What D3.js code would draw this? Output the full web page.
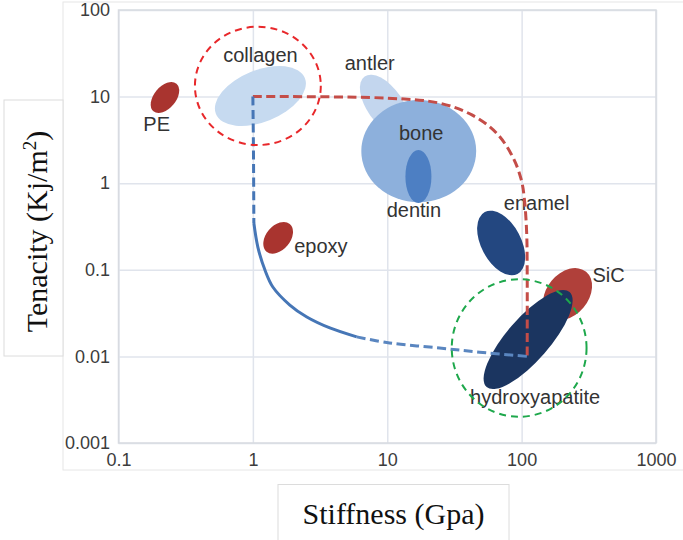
<!DOCTYPE html>
<html>
<head>
<meta charset="utf-8">
<script src="https://cdn.jsdelivr.net/npm/d3@7"></script>
<style>
  html, body { margin: 0; padding: 0; background: #fff; }
  svg { display: block; font-family: "Liberation Sans", Arial, sans-serif; }
</style>
</head>
<body>
<svg id="chart" width="683" height="540"></svg>
<script>
// ---- data -------------------------------------------------------------
// Material property fields: stiffness (GPa) vs tenacity (kJ/m²).
// Each field is an ellipse given by the two ends of its long axis.
const materials = ["PE", "collagen", "antler", "bone", "dentin", "epoxy", "enamel", "SiC", "hydroxyapatite"];
const fieldStart = [[0.182, 6.77], [0.531, 6.30], [6.79, 17.1], [6.41, 2.35], [17.06, 2.42],
                    [1.264, 0.162], [53.2, 0.464], [159.8, 0.0291], [54.9, 0.00443]];
const fieldEnd   = [[0.270, 14.1], [2.436, 16.4], [13.5, 3.73], [45.9, 2.35], [17.06, 0.590],
                    [1.881, 0.338], [93.2, 0.0897], [302.1, 0.0948], [227.5, 0.0554]];
const fieldAspect = [0.61, 0.54, 0.51, 0.89, 0.49, 0.67, 0.57, 0.72, 0.34];

// Property frontier of engineered materials (red) ...
const engineeredFrontier = [[1, 10], [10, 9.6], [24.5, 8.4], [43, 6.1], [65, 3.8], [86, 2.0],
                            [99.5, 1.09], [105, 0.64], [109, 0.27], [110, 0.1], [110, 0.01]];
// ... and of natural materials (blue), in three stretches
const naturalUpper = [[1, 10], [1.01, 2.4], [1.017, 0.347]];
const naturalBend  = [[1.017, 0.347], [1.089, 0.183], [1.228, 0.100], [1.408, 0.0633],
                      [1.884, 0.0392], [2.52, 0.0285], [3.74, 0.0213], [5.93, 0.0168]];
const naturalLower = [[5.93, 0.0168], [10.4, 0.0143], [24.5, 0.0125], [48.7, 0.0112], [110, 0.01]];

// Highlight rings: soft constituent (collagen) and stiff mineral (hydroxyapatite)
const ringStart  = [[0.3705, 13.3], [30.2, 0.0125]];
const ringEnd    = [[3.203, 13.3], [304.2, 0.0125]];
const ringAspect = [0.94, 1.02];

// Axis ticks
const xTicks = [0.1, 1, 10, 100, 1000];
const xTickLabels = ["0.1", "1", "10", "100", "1000"];
const yTicks = [0.001, 0.01, 0.1, 1, 10, 100];
const yTickLabels = ["0.001", "0.01", "0.1", "1", "10", "100"];

// ---- styling / layout ---------------------------------------------------
const fieldColor = {
  "PE": "#a9342f", "collagen": "#c6daf0", "antler": "#c3d6ee", "bone": "#8db0dc",
  "dentin": "#4d7fc3", "epoxy": "#a9342f", "enamel": "#234780", "SiC": "#b0403a",
  "hydroxyapatite": "#1b3560"
};
// label baseline offset from the field centre, px
const labelOffset = {
  "PE": [-8.3, 33.5], "collagen": [0, -34], "antler": [-15, -35], "bone": [2.5, -11],
  "dentin": [-4.5, 40.5], "epoxy": [42.7, 15.5], "enamel": [35.5, -33], "SiC": [41, -12],
  "hydroxyapatite": [7, 64]
};
const ringColor = ["#e8282b", "#1ea84c"];

const plot = { left: 118.5, right: 656, top: 10, bottom: 443 };

const svg = d3.select("#chart");

const x = d3.scaleLog().domain([0.1, 1000]).range([plot.left, plot.right]);
const y = d3.scaleLog().domain([0.001, 100]).range([plot.bottom, plot.top]);

// ---- frames around the figure and the axis titles ------------------------
svg.append("rect").attr("x", 63).attr("y", 2).attr("width", 700).attr("height", 468)
  .attr("fill", "none").attr("stroke", "#e6e6e6").attr("stroke-width", 1);
svg.append("rect").attr("x", 4).attr("y", 100).attr("width", 59).attr("height", 256)
  .attr("fill", "#fff").attr("stroke", "#dcdcdc").attr("stroke-width", 1);
svg.append("rect").attr("x", 278).attr("y", 484.5).attr("width", 231).attr("height", 70)
  .attr("fill", "#fff").attr("stroke", "#dcdcdc").attr("stroke-width", 1);

// ---- grid + tick labels --------------------------------------------------
const gx = svg.append("g").attr("transform", `translate(0,${plot.bottom})`)
  .call(d3.axisBottom(x).tickValues(xTicks)
    .tickFormat((d, i) => xTickLabels[i])
    .tickSize(-(plot.bottom - plot.top)).tickPadding(10));
gx.select(".domain").remove();
gx.selectAll(".tick line").attr("stroke", "#e0e4ec").attr("stroke-width", 1.5);
gx.selectAll(".tick text").attr("font-size", 18).attr("fill", "#3c3c3c")
  .attr("font-family", "Liberation Sans, Arial, sans-serif");

const gy = svg.append("g").attr("transform", `translate(${plot.left},0)`)
  .call(d3.axisLeft(y).tickValues(yTicks)
    .tickFormat((d, i) => yTickLabels[i])
    .tickSize(-(plot.right - plot.left)).tickPadding(8.5));
gy.select(".domain").remove();
gy.selectAll(".tick line").attr("stroke", "#e0e4ec").attr("stroke-width", 1.5);
gy.selectAll(".tick text").attr("font-size", 18).attr("fill", "#3c3c3c")
  .attr("font-family", "Liberation Sans, Arial, sans-serif");

svg.append("rect")
  .attr("x", plot.left).attr("y", plot.top)
  .attr("width", plot.right - plot.left).attr("height", plot.bottom - plot.top)
  .attr("fill", "none").attr("stroke", "#d8dbe1").attr("stroke-width", 1.5);

// ---- material fields -----------------------------------------------------
function ellipseGeom(p1, p2, aspect) {
  const x1 = x(p1[0]), y1 = y(p1[1]), x2 = x(p2[0]), y2 = y(p2[1]);
  const rx = Math.hypot(x2 - x1, y2 - y1) / 2;
  return {
    cx: (x1 + x2) / 2, cy: (y1 + y2) / 2,
    rx: rx, ry: rx * aspect,
    angle: Math.atan2(y2 - y1, x2 - x1) * 180 / Math.PI
  };
}

const fields = materials.map((name, i) =>
  Object.assign({ name }, ellipseGeom(fieldStart[i], fieldEnd[i], fieldAspect[i])));

svg.append("g").selectAll("ellipse").data(fields).join("ellipse")
  .attr("transform", d => `translate(${d.cx},${d.cy}) rotate(${d.angle})`)
  .attr("rx", d => d.rx).attr("ry", d => d.ry)
  .attr("fill", d => fieldColor[d.name]);

// ---- labels --------------------------------------------------------------
svg.append("g").selectAll("text").data(fields).join("text")
  .attr("x", d => d.cx + labelOffset[d.name][0])
  .attr("y", d => d.cy + labelOffset[d.name][1])
  .attr("text-anchor", "middle")
  .attr("font-size", 20)
  .attr("fill", "#333")
  .text(d => d.name);

// ---- frontier curves -----------------------------------------------------
const line = d3.line().x(d => x(d[0])).y(d => y(d[1])).curve(d3.curveCatmullRom.alpha(0.5));

svg.append("path").datum(engineeredFrontier)
  .attr("d", line).attr("fill", "none")
  .attr("stroke", "#c44d48").attr("stroke-width", 3).attr("stroke-dasharray", "9 4.5");

const blue = "#4676b6";
svg.append("path").datum(naturalUpper)
  .attr("d", line).attr("fill", "none")
  .attr("stroke", blue).attr("stroke-width", 3).attr("stroke-dasharray", "9 4.5");
svg.append("path").datum(naturalBend)
  .attr("d", line).attr("fill", "none")
  .attr("stroke", blue).attr("stroke-width", 3);
svg.append("path").datum(naturalLower)
  .attr("d", line).attr("fill", "none")
  .attr("stroke", "#5a86c0").attr("stroke-width", 3).attr("stroke-dasharray", "9 4.5");

// ---- highlight rings -----------------------------------------------------
const rings = ringStart.map((s, i) => Object.assign({ color: ringColor[i] },
  ellipseGeom(s, ringEnd[i], ringAspect[i])));
svg.append("g").selectAll("ellipse").data(rings).join("ellipse")
  .attr("transform", d => `translate(${d.cx},${d.cy}) rotate(${d.angle})`)
  .attr("rx", d => d.rx).attr("ry", d => d.ry)
  .attr("fill", "none").attr("stroke", d => d.color)
  .attr("stroke-width", 2).attr("stroke-dasharray", "7 5");

// ---- axis titles ---------------------------------------------------------
const yTitle = svg.append("text")
  .attr("transform", "translate(47,231.5) rotate(-90)")
  .attr("text-anchor", "middle")
  .attr("font-family", "Liberation Serif, Times New Roman, serif")
  .attr("font-size", 30).attr("fill", "#111");
yTitle.append("tspan").text("Tenacity (Kj/m");
yTitle.append("tspan").attr("font-size", 19).attr("dy", -11).text("2");
yTitle.append("tspan").attr("dy", 11).text(")");

svg.append("text")
  .attr("x", 393.5).attr("y", 524)
  .attr("text-anchor", "middle")
  .attr("font-family", "Liberation Serif, Times New Roman, serif")
  .attr("font-size", 30).attr("fill", "#111")
  .text("Stiffness (Gpa)");
</script>
</body>
</html>
